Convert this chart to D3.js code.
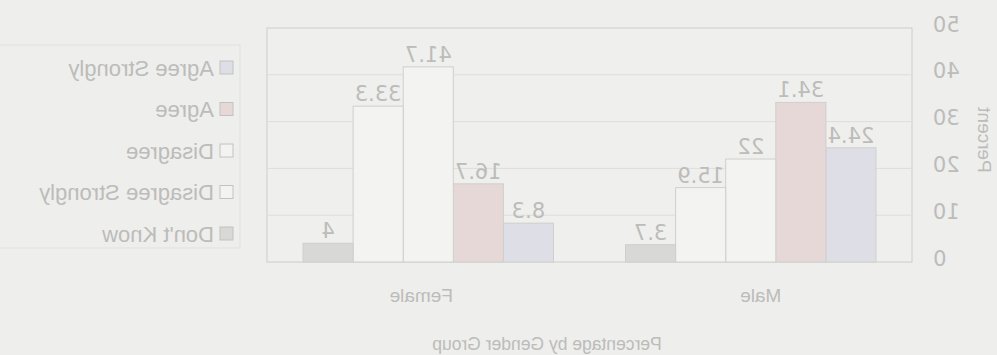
<!DOCTYPE html>
<html>
<head>
<meta charset="utf-8">
<script src="https://cdn.jsdelivr.net/npm/d3@7"></script>
<style>
  html, body { margin: 0; padding: 0; background: #eeeeec; }
  svg { display: block; }
</style>
</head>
<body>
<div id="chart"></div>
<script>
const categories = ["Male", "Female"];
const seriesNames = ["Agree Strongly", "Agree", "Disagree", "Disagree Strongly", "Don't Know"];
const maleValues = [24.4, 34.1, 22, 15.9, 3.7];
const femaleValues = [8.3, 16.7, 41.7, 33.3, 4];
const yTicks = [0, 10, 20, 30, 40, 50];
const seriesColors = ["#dedfe6", "#e6d8d7", "#f3f3f1", "#f3f3f1", "#d8d8d6"];

const W = 997, H = 355;
const plot = { left: 85, right: 730, top: 28, bottom: 262 };
const textColor = "#bcbcba";
const lineColor = "#d2d2d0";
const font = "'DejaVu Sans', Verdana, sans-serif";
const font2 = "'Liberation Sans', Arial, sans-serif";

const svg = d3.select("#chart").append("svg")
  .attr("width", W).attr("height", H);

svg.append("rect").attr("width", W).attr("height", H).attr("fill", "#eeeeec");

// the reference is a mirror image of the chart
const root = svg.append("g").attr("transform", `translate(${W},0) scale(-1,1)`);

const y = d3.scaleLinear().domain([0, 50]).range([plot.bottom, plot.top]);
const x0 = d3.scaleBand().domain(categories).range([plot.left, plot.right]);
const groupPad = 36;
const x1 = d3.scaleBand().domain(seriesNames)
  .range([groupPad, x0.bandwidth() - groupPad]);

// plot area
root.append("rect")
  .attr("x", plot.left).attr("y", plot.top)
  .attr("width", plot.right - plot.left).attr("height", plot.bottom - plot.top)
  .attr("fill", "#efefed").attr("stroke", lineColor).attr("stroke-width", 1.2);

// gridlines
root.append("g").selectAll("line")
  .data(yTicks.filter(t => t > 0 && t < 50))
  .join("line")
  .attr("x1", plot.left).attr("x2", plot.right)
  .attr("y1", d => y(d)).attr("y2", d => y(d))
  .attr("stroke", "#dddddb").attr("stroke-width", 1);

// y axis labels
const yAxis = d3.axisLeft(y).tickValues(yTicks).tickSize(0).tickPadding(21);
const yg = root.append("g").attr("transform", `translate(${plot.left},0)`).call(yAxis);
yg.select(".domain").remove();
yg.selectAll("text")
  .attr("fill", textColor).attr("font-family", font).attr("font-size", 21)
  .attr("dy", "0.15em");

// y title
root.append("text")
  .attr("transform", `translate(19,140) rotate(-90)`)
  .attr("text-anchor", "middle")
  .attr("fill", textColor).attr("font-family", font2).attr("font-size", 19)
  .text("Percent");

// bars
const data = categories.map((c, i) => ({
  cat: c,
  vals: (i === 0 ? maleValues : femaleValues).map((v, j) => ({ s: seriesNames[j], v, c: seriesColors[j] }))
}));

const groups = root.append("g").selectAll("g")
  .data(data).join("g")
  .attr("transform", d => `translate(${x0(d.cat)},0)`);

groups.selectAll("rect")
  .data(d => d.vals).join("rect")
  .attr("x", d => x1(d.s)).attr("width", x1.bandwidth())
  .attr("y", d => y(d.v)).attr("height", d => y(0) - y(d.v))
  .attr("fill", d => d.c).attr("stroke", "#cfcfcd").attr("stroke-width", 1);

groups.selectAll("text")
  .data(d => d.vals).join("text")
  .attr("x", d => x1(d.s) + x1.bandwidth() / 2)
  .attr("y", d => y(d.v) - 5)
  .attr("text-anchor", "middle")
  .attr("fill", textColor).attr("font-family", font).attr("font-size", 21)
  .text(d => d.v);

// x axis category labels
const xAxis = d3.axisBottom(x0).tickSize(0).tickPadding(27);
const xg = root.append("g").attr("transform", `translate(0,${plot.bottom})`).call(xAxis);
xg.select(".domain").remove();
xg.selectAll("text")
  .attr("fill", textColor).attr("font-family", font2).attr("font-size", 19)
  .attr("dx", (d, i) => i === 0 ? -10 : 7);

// x title
root.append("text")
  .attr("x", 450).attr("y", 350)
  .attr("text-anchor", "middle")
  .attr("fill", textColor).attr("font-family", font2).attr("font-size", 17.5)
  .text("Percentage by Gender Group");

// legend
const legend = root.append("g");
legend.append("rect")
  .attr("x", 757).attr("y", 45).attr("width", 260).attr("height", 203)
  .attr("fill", "none").attr("stroke", "#e0e0de").attr("stroke-width", 1);

const legY = d3.scalePoint().domain(seriesNames).range([68, 234]);
const items = legend.selectAll("g.item")
  .data(seriesNames.map((s, i) => ({ s, c: seriesColors[i] })))
  .join("g").attr("class", "item")
  .attr("transform", d => `translate(764,${legY(d.s)})`);
items.append("rect")
  .attr("x", 0).attr("y", -7).attr("width", 13).attr("height", 13)
  .attr("fill", d => d.c).attr("stroke", "#c2c2c0").attr("stroke-width", 1);
items.append("text")
  .attr("x", 19).attr("y", 0).attr("dy", "0.35em")
  .attr("fill", textColor).attr("font-family", font2).attr("font-size", 22)
  .text(d => d.s);
</script>
</body>
</html>
